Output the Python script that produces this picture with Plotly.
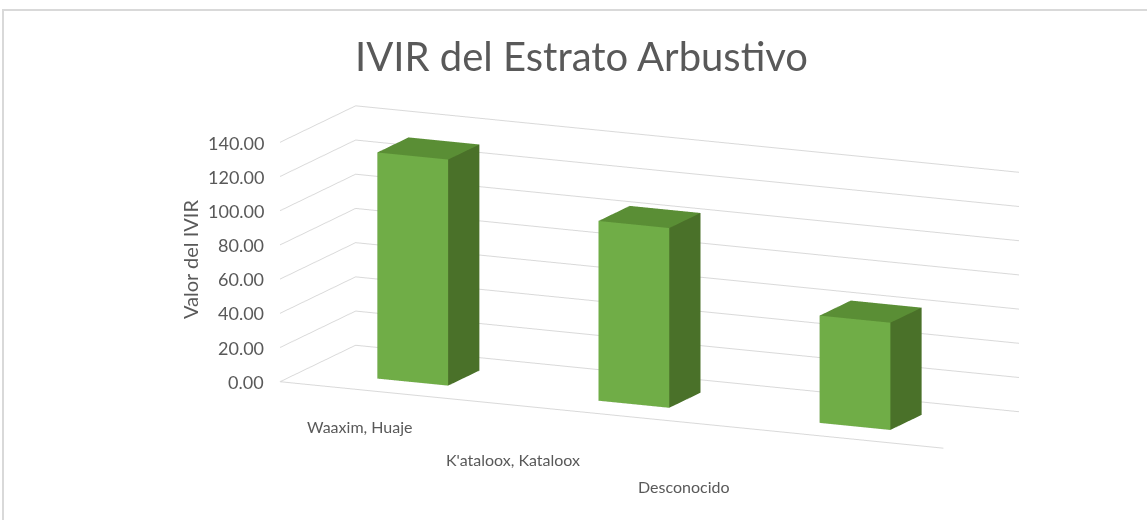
import math
import plotly.graph_objects as go

# Chart data
categories = ["Waaxim, Huaje", "K'ataloox, Kataloox", "Desconocido"]
ivir = [132.2, 105.1, 62.7]
z_ticks = [0, 20, 40, 60, 80, 100, 120, 140]

# 3D column geometry (category units)
BAR_W = 0.32
SERIES_DEPTH = 0.75
BAR_D = 0.31

FRONT = "#70AD47"
SIDE = "#4A7129"
TOP = "#5A8E35"
TEXT = "#595959"
GRID = "#D9D9D9"
FONT = "Lato"

xs, ys, zs = [], [], []
ii, jj, kk, fcol = [], [], [], []
for idx, val in enumerate(ivir):
    x0, x1 = idx - BAR_W / 2, idx + BAR_W / 2
    y0, y1 = (SERIES_DEPTH - BAR_D) / 2, (SERIES_DEPTH + BAR_D) / 2
    base = len(xs)
    corners = [
        (x0, y0, 0), (x1, y0, 0), (x1, y1, 0), (x0, y1, 0),
        (x0, y0, val), (x1, y0, val), (x1, y1, val), (x0, y1, val),
    ]
    for cx, cy, cz in corners:
        xs.append(cx); ys.append(cy); zs.append(cz)
    faces = [
        ((0, 1, 5), FRONT), ((0, 5, 4), FRONT),
        ((3, 2, 6), SIDE), ((3, 6, 7), SIDE),
        ((0, 3, 7), SIDE), ((0, 7, 4), SIDE),
        ((1, 2, 6), SIDE), ((1, 6, 5), SIDE),
        ((4, 5, 6), TOP), ((4, 6, 7), TOP),
        ((0, 1, 2), SIDE), ((0, 2, 3), SIDE),
    ]
    for (a, b, c), col in faces:
        ii.append(base + a); jj.append(base + b); kk.append(base + c)
        fcol.append(col)

bars = go.Mesh3d(
    x=xs, y=ys, z=zs, i=ii, j=jj, k=kk,
    facecolor=fcol, flatshading=True,
    lighting=dict(ambient=1.0, diffuse=0.0, specular=0.0, roughness=1.0, fresnel=0.0),
    hoverinfo="skip", showscale=False,
)

fig = go.Figure(bars)

# camera: looking from the front-right, slightly above
phi = math.radians(24.5)
theta = math.radians(12.7)
dist = 2.94
eye = dict(
    x=math.sin(phi) * math.cos(theta) * dist,
    y=-math.cos(phi) * math.cos(theta) * dist,
    z=math.sin(theta) * dist,
)

axis_common = dict(
    showbackground=False, zeroline=False, showspikes=False,
    title=dict(text=""), ticks="", showticklabels=False,
)

# value-axis labels and category labels as horizontal scene annotations
tick_font = dict(family=FONT, size=18, color=TEXT)
cat_font = dict(family=FONT, size=16, color=TEXT)
scene_ann = [
    dict(x=-0.5, y=0, z=t, text=f"{t:.2f}", showarrow=False,
         xanchor="right", yanchor="middle", xshift=-14, font=tick_font)
    for t in z_ticks
]
cat_xshift = [-31, -99, -149]
cat_yshift = [-34, -44, -49]
for idx, name in enumerate(categories):
    scene_ann.append(dict(
        x=idx, y=0, z=0, text=name, showarrow=False,
        xanchor="center", yanchor="middle",
        xshift=cat_xshift[idx], yshift=cat_yshift[idx], font=cat_font,
    ))

fig.update_layout(
    width=1147, height=520,
    margin=dict(l=0, r=0, t=0, b=0),
    paper_bgcolor="white",
    showlegend=False,
    hovermode=False,
    title=dict(
        text="IVIR del Estrato Arbustivo",
        font=dict(family=FONT, size=40, color=TEXT),
        x=0.507, xanchor="center", y=1 - 57 / 520, yanchor="middle",
        yref="container",
    ),
    scene=dict(
        domain=dict(x=[0.1378, 0.9948], y=[0.0, 0.934]),
        aspectmode="manual",
        aspectratio=dict(x=3, y=SERIES_DEPTH, z=1.01),
        xaxis=dict(range=[-0.5, 2.5], showgrid=False, showline=True,
                   linecolor=GRID, linewidth=2, **axis_common),
        yaxis=dict(range=[0, SERIES_DEPTH], showgrid=False, showline=False,
                   **axis_common),
        zaxis=dict(range=[0, 140], tickvals=z_ticks, showgrid=True,
                   gridcolor=GRID, gridwidth=2, showline=False, **axis_common),
        camera=dict(
            projection=dict(type="orthographic"),
            eye=eye, center=dict(x=0, y=0, z=0), up=dict(x=0, y=0, z=1),
        ),
        annotations=scene_ann,
    ),
    annotations=[
        dict(
            text="Valor del IVIR", xref="paper", yref="paper",
            x=176 / 1147, y=1 - 260 / 520, showarrow=False, textangle=-90,
            font=dict(family=FONT, size=20, color=TEXT),
        )
    ],
    shapes=[
        dict(
            type="rect", xref="paper", yref="paper",
            x0=3 / 1147, x1=1.02, y0=-0.05, y1=1 - 10 / 520,
            line=dict(color=GRID, width=2), fillcolor="rgba(0,0,0,0)",
            layer="below",
        )
    ],
)

fig.write_html("out.html", config={"displayModeBar": False})
